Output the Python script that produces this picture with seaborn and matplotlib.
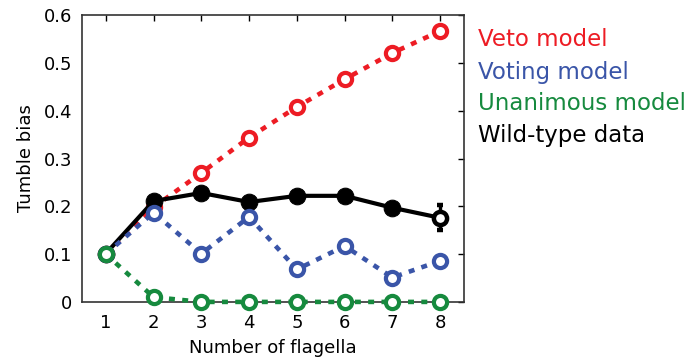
import matplotlib
matplotlib.use("Agg")
import matplotlib.pyplot as plt
import seaborn as sns
import numpy as np

flagella = [1, 2, 3, 4, 5, 6, 7, 8]
veto = [0.10, 0.198, 0.270, 0.344, 0.408, 0.466, 0.521, 0.567]
voting = [0.10, 0.187, 0.101, 0.178, 0.068, 0.117, 0.051, 0.086]
unanimous = [0.10, 0.010, 0.0, 0.0, 0.0, 0.0, 0.0, 0.0]
wildtype = [0.101, 0.211, 0.228, 0.209, 0.222, 0.222, 0.197, 0.176]
wildtype_err = [0, 0, 0, 0, 0, 0, 0, 0.026]

series_names = ["Veto model", "Voting model", "Unanimous model", "Wild-type data"]
colors = ["#ed1c24", "#3a55a8", "#168a3e", "#000000"]

sns.set_theme(style="white")
plt.rcParams['font.family'] = ['DejaVu Sans']

fig = plt.figure(figsize=(7, 3.62), dpi=100)
ax = fig.add_axes([0.117, 0.166, 0.546, 0.792])

dash = (0, (1.3, 1.6))
ms = 9.5
mew = 3.0

sns.lineplot(x=flagella, y=veto, ax=ax, color=colors[0], linewidth=3.3,
             linestyle=dash, marker='o', markersize=ms, markerfacecolor='white',
             markeredgecolor=colors[0], markeredgewidth=mew, zorder=2)
sns.lineplot(x=flagella[:-1], y=wildtype[:-1], ax=ax, color=colors[3], linewidth=3.0,
             marker='o', markersize=12, markerfacecolor='black',
             markeredgecolor='black', zorder=3)
sns.lineplot(x=flagella[-2:], y=wildtype[-2:], ax=ax, color=colors[3], linewidth=3.0,
             zorder=3)
ax.errorbar(flagella[-1], wildtype[-1], yerr=wildtype_err[-1], color='black',
            linewidth=2.4, capsize=2, capthick=2.2, marker='o', markersize=ms,
            markerfacecolor='white', markeredgecolor='black', markeredgewidth=3.2,
            zorder=3)
sns.lineplot(x=flagella, y=voting, ax=ax, color=colors[1], linewidth=3.3,
             linestyle=dash, marker='o', markersize=ms, markerfacecolor='white',
             markeredgecolor=colors[1], markeredgewidth=mew, zorder=4)
sns.lineplot(x=flagella, y=unanimous, ax=ax, color=colors[2], linewidth=3.3,
             linestyle=dash, marker='o', markersize=ms, markerfacecolor='white',
             markeredgecolor=colors[2], markeredgewidth=mew, zorder=5, clip_on=False)

ax.set_xlim(0.5, 8.5)
ax.set_ylim(0, 0.6)
ax.set_xticks(flagella)
ax.set_xticklabels([str(f) for f in flagella])
ax.set_yticks([0, 0.1, 0.2, 0.3, 0.4, 0.5, 0.6])
ax.set_yticklabels(["0", "0.1", "0.2", "0.3", "0.4", "0.5", "0.6"])
ax.tick_params(direction='in', length=4, width=1, top=True, right=True,
               labelsize=13, colors='black')
ax.tick_params(axis='x', pad=9)
ax.tick_params(axis='y', pad=7)
for s in ax.spines.values():
    s.set_color('#333333')
    s.set_linewidth(1.2)
ax.set_xlabel("Number of flagella", fontsize=13, color='black', labelpad=5)
ax.set_ylabel("Tumble bias", fontsize=13, color='black', labelpad=6)

ys = [40, 73, 104, 136]
for name, c, y in zip(series_names, colors, ys):
    fig.text(478 / 700, 1 - y / 362, name, color=c, fontsize=16.5, va='center', ha='left')

fig.savefig("out.png", dpi=100)
